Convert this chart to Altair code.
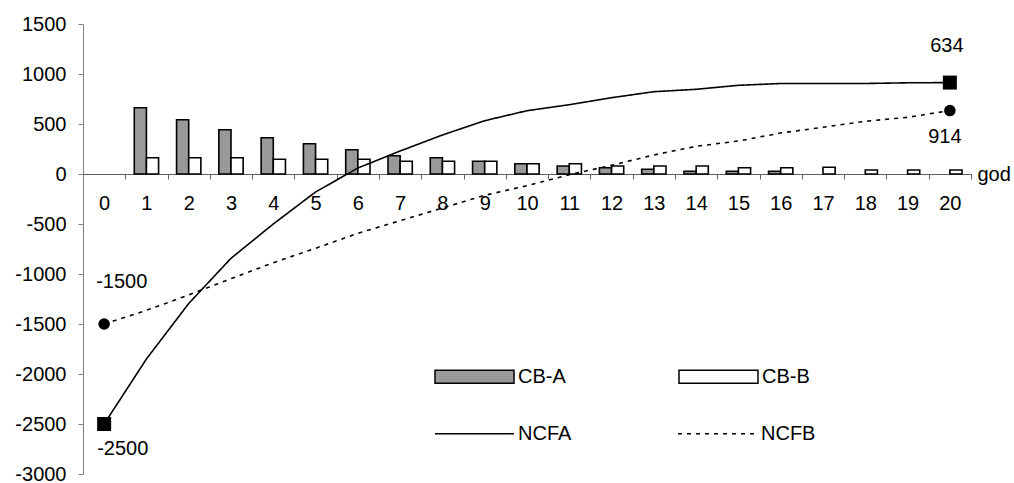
import altair as alt
import pandas as pd

# Years on the horizontal axis
years = list(range(21))

# Yearly cash-flow bars for projects A and B
cb_a = [0, 663, 543, 443, 363, 303, 243, 183, 163, 127, 103, 80, 63, 47, 27, 27, 27, 0, 0, 0, 0]
cb_b = [0, 163, 163, 163, 147, 147, 147, 127, 127, 127, 103, 103, 80, 80, 80, 63, 63, 67, 40, 40, 40]

# Cumulative net cash flow lines
ncfa = [-2500, -1850, -1295, -843, -500, -180, 60, 230, 390, 533, 633, 693,
        763, 823, 847, 887, 905, 905, 905, 912, 914]
ncfb = [-1500, -1363, -1210, -1047, -887, -743, -593, -467, -340, -213, -117, -7,
        87, 190, 277, 330, 410, 467, 527, 567, 634]

bar_names = ["CB-A", "CB-B"]
line_names = ["NCFA", "NCFB"]
y_ticks = list(range(-3000, 1501, 500))

FONT = "Liberation Sans"
FS = 20
AXIS_GRAY = "#808080"

bar_rows = []
for name, vals in zip(bar_names, [cb_a, cb_b]):
    for yr, v in zip(years, vals):
        if v != 0:
            bar_rows.append({"year": yr, "cb": name, "value": v})
bar_df = pd.DataFrame(bar_rows)

line_rows = []
for name, vals in zip(line_names, [ncfa, ncfb]):
    for yr, v in zip(years, vals):
        line_rows.append({"year": yr, "ncf": name, "value": v})
line_df = pd.DataFrame(line_rows)

# first and last point of each line get a marker
end_df = line_df[line_df["year"].isin([years[0], years[-1]])]

x_scale = alt.Scale(domain=years, paddingInner=0, paddingOuter=0)
y_scale = alt.Scale(domain=[-3000, 1500], nice=False, zero=False)

x_axis = alt.Axis(
    title="god", orient="bottom", offset=-300, tickBand="extent", labelAngle=0,
    domainColor="#606060", tickColor="#606060", tickSize=5, labelPadding=14,
    labelFont=FONT, labelFontSize=FS, labelColor="black",
    titleFont=FONT, titleFontSize=FS, titleFontWeight="normal", titleColor="black",
    titleX=894, titleY=0, titleAlign="left", titleBaseline="middle", grid=False,
)
y_axis = alt.Axis(
    values=y_ticks, labelExpr="'' + datum.value", title=None, grid=False,
    domainColor=AXIS_GRAY, tickColor=AXIS_GRAY, tickSize=5, labelPadding=12,
    labelFont=FONT, labelFontSize=FS, labelColor="black",
)

bar_legend = alt.Legend(
    title=None, orient="none", legendX=351, legendY=312, direction="horizontal",
    symbolType="M-1,-0.165L1,-0.165L1,0.165L-1,0.165Z", symbolSize=6241,
    symbolStrokeColor="black", symbolStrokeWidth=1.5, symbolOpacity=1,
    labelFont=FONT, labelFontSize=FS, labelColor="black", labelOffset=3,
    columnPadding=110, padding=0,
)
line_legend = alt.Legend(
    title=None, orient="none", legendX=351, legendY=369, direction="horizontal",
    symbolType="stroke", symbolSize=6241,
    symbolStrokeColor="black", symbolStrokeWidth=1.6,
    labelFont=FONT, labelFontSize=FS, labelColor="black", labelOffset=3,
    columnPadding=102, padding=0,
)

bars = alt.Chart(bar_df).mark_bar(stroke="black", strokeWidth=1.6).encode(
    x=alt.X("year:O", scale=x_scale, axis=x_axis),
    xOffset=alt.XOffset("cb:N", scale=alt.Scale(domain=bar_names, paddingInner=0, paddingOuter=0.74)),
    y=alt.Y("value:Q", scale=y_scale, axis=y_axis),
    fill=alt.Fill("cb:N", scale=alt.Scale(domain=bar_names, range=["#999999", "#ffffff"]), legend=bar_legend),
)

lines = alt.Chart(line_df).mark_line(color="black", strokeWidth=1.6).encode(
    x=alt.X("year:O", scale=x_scale),
    y=alt.Y("value:Q", scale=y_scale),
    strokeDash=alt.StrokeDash("ncf:N", scale=alt.Scale(domain=line_names, range=[[1, 0], [4, 5]]),
                              legend=line_legend),
)

ends = alt.Chart(end_df).mark_point(filled=True, color="black", opacity=1).encode(
    x=alt.X("year:O", scale=x_scale),
    y=alt.Y("value:Q", scale=y_scale),
    shape=alt.Shape("ncf:N", scale=alt.Scale(domain=line_names, range=["square", "circle"]), legend=None),
    size=alt.Size("ncf:N", scale=alt.Scale(domain=line_names, range=[196, 133]), legend=None),
)


def value_label(year, anchor, text, dx, dy, align):
    df = pd.DataFrame([{"year": year, "value": anchor, "text": text}])
    return alt.Chart(df).mark_text(
        font=FONT, fontSize=FS, color="black", align=align, baseline="middle", dx=dx, dy=dy
    ).encode(
        x=alt.X("year:O", scale=x_scale),
        y=alt.Y("value:Q", scale=y_scale),
        text="text:N",
    )


labels = [
    value_label(years[0], ncfb[0], str(ncfb[0]), -8, -42, "left"),
    value_label(years[0], ncfa[0], str(ncfa[0]), -7, 25, "left"),
    value_label(years[-1], ncfa[-1], str(ncfb[-1]), -3, -37, "center"),
    value_label(years[-1], ncfb[-1], str(ncfa[-1]), -5, 26, "center"),
]

chart = alt.layer(bars, lines, ends, *labels).resolve_scale(
    fill="independent", strokeDash="independent"
).properties(
    width=888, height=450,
    autosize=alt.AutoSizeParams(type="none"),
    padding={"left": 83, "top": 24, "right": 43, "bottom": 9},
    background="white",
).configure_view(stroke=None)

chart.save("out.html", embed_options={"renderer": "svg", "actions": False})
